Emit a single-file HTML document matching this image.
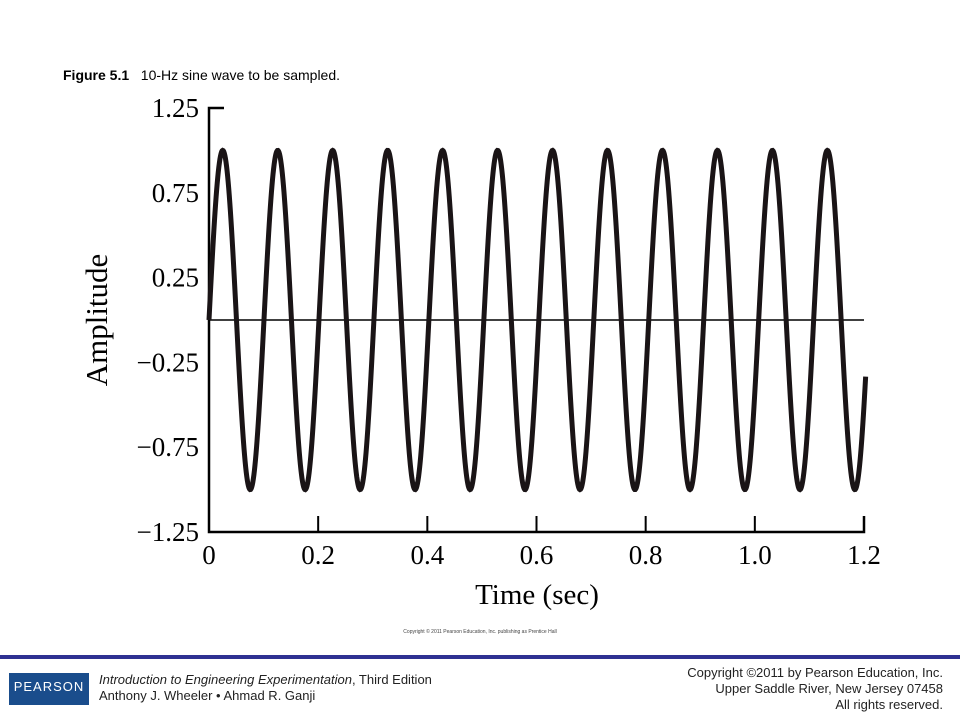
<!DOCTYPE html>
<html><head><meta charset="utf-8"><style>
body{margin:0;width:960px;height:720px;background:#fff;overflow:hidden;position:relative;font-family:"Liberation Sans",sans-serif}
.abs{position:absolute}
</style></head><body>
<div class="abs" style="left:63px;top:67px;font-size:14px;color:#000"><b>Figure 5.1</b>&nbsp;&nbsp;&nbsp;10-Hz sine wave to be sampled.</div>
<svg class="abs" style="left:0;top:0" width="960" height="640">
<g id="axes" font-family="Liberation Serif,serif" font-size="27" fill="#000"></g>
<text x="0" y="0" transform="translate(107,320) rotate(-90)" text-anchor="middle" font-family="Liberation Serif,serif" font-size="31">Amplitude</text>
<text x="537" y="604" text-anchor="middle" font-family="Liberation Serif,serif" font-size="29">Time (sec)</text>
<text x="480" y="633" text-anchor="middle" font-size="5" fill="#444">Copyright © 2011 Pearson Education, Inc. publishing as Prentice Hall</text>
</svg>
<div class="abs" style="left:0;top:655px;width:960px;height:4px;background:#2e3192"></div>
<div class="abs" style="left:9px;top:673px;width:80px;height:32px;background:#1a4d8c;color:#fff;font-size:13px;text-align:center;line-height:28px;letter-spacing:1px">PEARSON</div>
<div class="abs" style="left:99px;top:672px;font-size:13px;line-height:16px;color:#222"><i>Introduction to Engineering Experimentation</i>, Third Edition<br>Anthony J. Wheeler • Ahmad R. Ganji</div>
<div class="abs" style="right:17px;top:665px;font-size:13px;line-height:16px;color:#222;text-align:right">Copyright ©2011 by Pearson Education, Inc.<br>Upper Saddle River, New Jersey 07458<br>All rights reserved.</div>
<script>
const yTicks=[1.25,0.75,0.25,-0.25,-0.75,-1.25];
const yTickLabels=["1.25","0.75","0.25","\u22120.25","\u22120.75","\u22121.25"];
const xTicks=[0,0.2,0.4,0.6,0.8,1.0,1.2];
const xTickLabels=["0","0.2","0.4","0.6","0.8","1.0","1.2"];
const frequency=[9.93];
const amplitude=[1];
const tRange=[0,1.203];
const X0=209,X1=864,Y0=108,Y1=532;
const xs=t=>X0+(t-0)/(1.2-0)*(X1-X0);
const ys=v=>Y1-(v+1.25)/2.5*(Y1-Y0);
const NS="http://www.w3.org/2000/svg";
const svg=document.querySelector('svg');
const g=document.getElementById('axes');
function mk(tag,attrs,parent){const e=document.createElementNS(NS,tag);for(const k in attrs)e.setAttribute(k,attrs[k]);(parent||svg).appendChild(e);return e;}
let e=mk('path',{d:`M${X0+15},${Y0}H${X0}V${Y1}H${X1}V${Y1-16}`,fill:'none',stroke:'#000','stroke-width':2.5});


yTicks.forEach((v,i)=>{
 const t=mk('text',{x:X0-10,y:ys(v)+9,'text-anchor':'end'},g);t.textContent=yTickLabels[i];
 
 
});
xTicks.forEach((v,i)=>{
 const t=mk('text',{x:xs(v),y:Y1+32,'text-anchor':'middle'},g);t.textContent=xTickLabels[i];
 
 
 if(i>0){const l=mk('line',{x1:xs(v),x2:xs(v),y1:Y1,y2:Y1-16,stroke:'#000','stroke-width':2});
 
 }
});
const z=mk('line',{x1:X0,x2:X1,y1:ys(0),y2:ys(0),stroke:'#000','stroke-width':1.5});


let d='';const N=1200;
for(let i=0;i<=N;i++){const t=tRange[0]+(tRange[1]-tRange[0])*i/N;const v=amplitude[0]*Math.sin(2*Math.PI*frequency[0]*t);d+=(i?'L':'M')+xs(t).toFixed(2)+','+ys(v).toFixed(2);}
const w=mk('path',{d:d,fill:'none',stroke:'#1a1416','stroke-width':5});


</script>
</body></html>
